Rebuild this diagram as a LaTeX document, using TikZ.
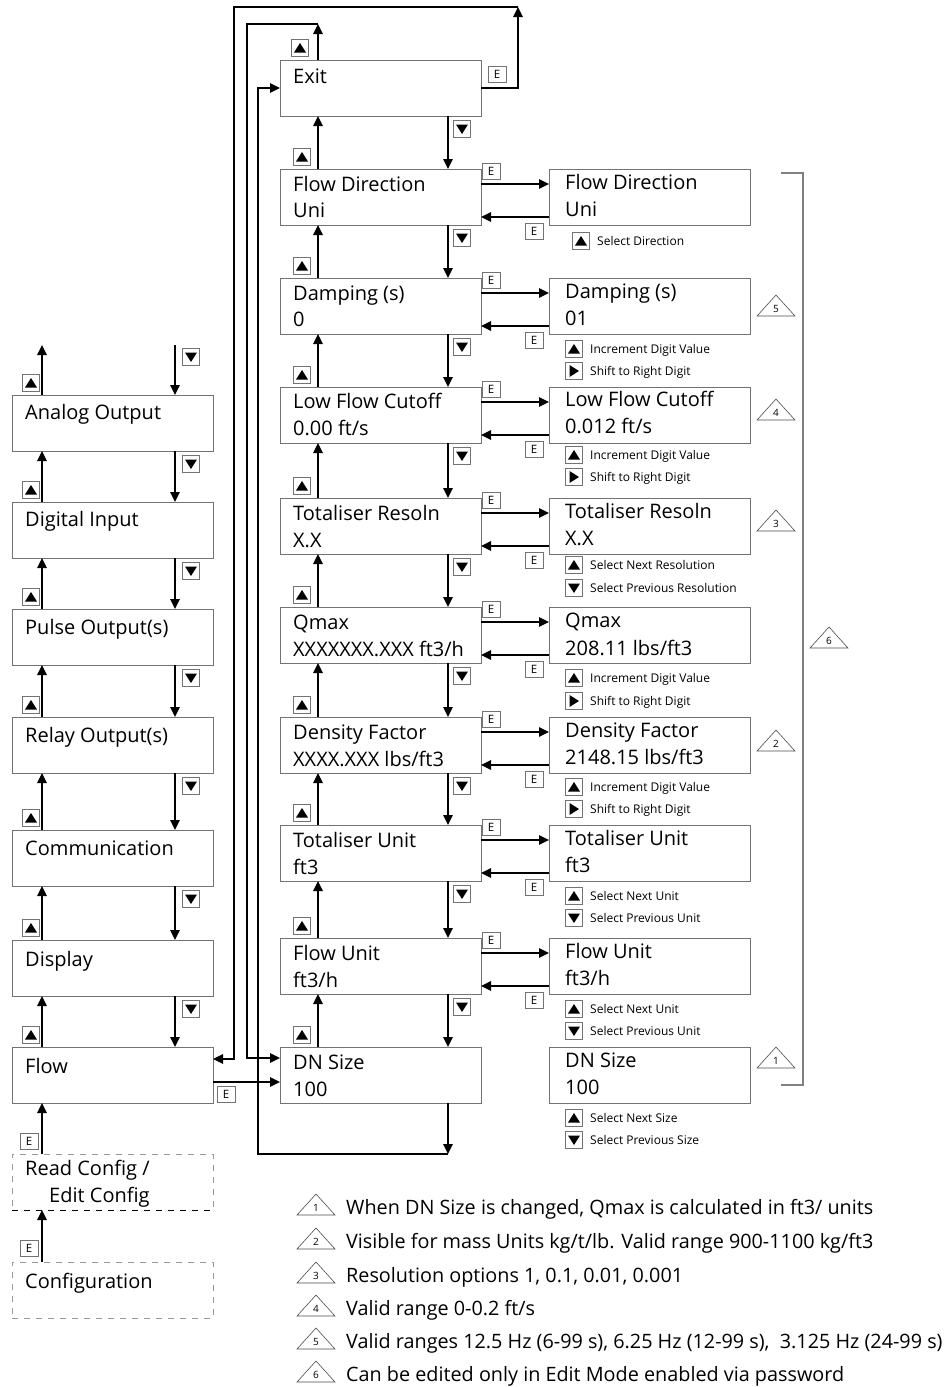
\documentclass[tikz,border=0pt]{standalone}
\usepackage{fontspec}
\setmainfont{Open Sans}
\usetikzlibrary{arrows.meta}
\tikzset{
  box/.style={draw=black!55, line width=0.8pt, minimum width=201pt, minimum height=56pt, inner sep=0pt, outer sep=0pt, anchor=north west},
  dbox/.style={box, draw=black!40, dash pattern=on 6pt off 6pt},
  txt/.style={anchor=base west, inner sep=0pt, font=\fontsize{20}{22}\selectfont},
  htxt/.style={anchor=base west, inner sep=0pt, font=\fontsize{12}{14}\selectfont},
  ltxt/.style={anchor=base west, inner sep=0pt, font=\fontsize{19.8}{22}\selectfont},
  arr/.style={line width=1.3pt, -{Triangle[length=10pt,width=9.5pt]}},
  ibox/.style={draw=black!55, line width=0.7pt, minimum width=17pt, minimum height=17pt, inner sep=0pt, outer sep=0pt, fill=white},
  upi/.style={ibox, path picture={\fill[black,shift={(path picture bounding box.center)}] (-6pt,-4.5pt) -- (6pt,-4.5pt) -- (0pt,5pt) -- cycle;}},
  dni/.style={ibox, path picture={\fill[black,shift={(path picture bounding box.center)}] (-6pt,4.5pt) -- (6pt,4.5pt) -- (0pt,-5pt) -- cycle;}},
  rti/.style={ibox, path picture={\fill[black,shift={(path picture bounding box.center)}] (-4.5pt,-6pt) -- (-4.5pt,6pt) -- (5pt,0pt) -- cycle;}},
  ebox/.style={draw=black!55, line width=0.7pt, minimum width=18pt, minimum height=16pt, inner sep=0pt, fill=white, font=\fontsize{11.5}{11.5}\selectfont},
  tri/.style={draw=black!70, line width=0.6pt, line join=miter},
  trinum/.style={inner sep=0pt, font=\fontsize{10}{10}\selectfont},
  brk/.style={draw=black!50, line width=1.1pt},
}
\newcommand\hlp[5]{\node[#2] (#1) at (#3,#4) {}; \node[htxt] (#1t) at (#3+16,#4+4.5) {#5};}
\newcommand\mtri[4]{\draw[tri] (#1-19,#2+10) -- (#1+19,#2+10) -- (#1,#2-11) -- cycle; \node[trinum] (#4) at (#1,#2+3) {#3};}
\begin{document}
\begin{tikzpicture}[x=1pt,y=-1pt]
\useasboundingbox (0,0) rectangle (944,1387);

% ---------- left column ----------
\node[box] (ao) at (12,395) {};
\node[box] (di) at (12,502) {};
\node[box] (po) at (12,609) {};
\node[box] (ro) at (12,717) {};
\node[box] (co) at (12,830) {};
\node[box] (dp) at (12,940) {};
\node[box] (fl) at (12,1047) {};
\node[dbox] (rc) at (12,1154) {};
\node[dbox] (cf) at (12,1262) {};
\draw[black, line width=0.8pt, dash pattern=on 6pt off 6pt] (rc.south west) -- (rc.south east);

\node[txt] (aoT) at (25,419) {Analog Output};
\node[txt] (diT) at (25,526) {Digital Input};
\node[txt] (poT) at (25,634) {Pulse Output(s)};
\node[txt] (roT) at (25,742) {Relay Output(s)};
\node[txt] (coT) at (25,855) {Communication};
\node[txt] (dpT) at (25,966) {Display};
\node[txt] (flT) at (25,1073) {Flow};
\node[txt] (rcT1) at (25,1175) {Read Config /};
\node[txt] (rcT2) at (49,1202) {Edit Config};
\node[txt] (cfT) at (25,1288) {Configuration};

\coordinate (la) at (42,345);
\coordinate (lb) at (175,345);
\draw[arr] ([xshift=30pt]ao.north west) -- (la);
\draw[arr] (lb) -- ([xshift=163pt]ao.north west);
\node[upi] (lu0) at (31,383) {};
\node[dni] (ld0) at (191,357) {};
\foreach \a/\b [count=\i] in {ao/di,di/po,po/ro,ro/co,co/dp,dp/fl}{
  \draw[arr] ([xshift=30pt]\b.north west) -- ([xshift=30pt]\a.south west);
  \draw[arr] ([xshift=163pt]\a.south west) -- ([xshift=163pt]\b.north west);
  \node[upi] (lu\i) at ([xshift=19pt,yshift=12pt]\b.north west) {};
  \node[dni] (ld\i) at ([xshift=179pt,yshift=-13pt]\a.south west) {};
}
\draw[arr] ([xshift=30pt]rc.north west) -- ([xshift=30pt]fl.south west);
\node[ebox] (e1) at (29,1141) {E};
\draw[arr] ([xshift=30pt]cf.north west) -- ([xshift=30pt]rc.south west);
\node[ebox] (e2) at (29,1248) {E};

% ---------- middle column ----------
\node[box] (ex) at (280,60) {};
\node[box] (fd) at (280,169) {};
\node[box] (dm) at (280,278) {};
\node[box] (lf) at (280,387) {};
\node[box] (tr) at (280,498) {};
\node[box] (qm) at (280,607) {};
\node[box] (df) at (280,717) {};
\node[box] (tu) at (280,825) {};
\node[box] (fu) at (280,938) {};
\node[box] (dn) at (280,1047) {};

\node[txt] (exT) at (293,83) {Exit};
\node[txt] (fdT1) at (293,191) {Flow Direction};
\node[txt] (fdT2) at (293,217) {Uni};
\node[txt] (dmT1) at (293,300) {Damping (s)};
\node[txt] (dmT2) at (293,326) {0};
\node[txt] (lfT1) at (293,408) {Low Flow Cutoff};
\node[txt] (lfT2) at (293,435) {0.00 ft/s};
\node[txt] (trT1) at (293,520) {Totaliser Resoln};
\node[txt] (trT2) at (293,547) {X.X};
\node[txt] (qmT1) at (293,629) {Qmax};
\node[txt] (qmT2) at (293,656) {XXXXXXX.XXX ft3/h};
\node[txt] (dfT1) at (293,739) {Density Factor};
\node[txt] (dfT2) at (293,766) {XXXX.XXX lbs/ft3};
\node[txt] (tuT1) at (293,847) {Totaliser Unit};
\node[txt] (tuT2) at (293,874) {ft3};
\node[txt] (fuT1) at (293,960) {Flow Unit};
\node[txt] (fuT2) at (293,987) {ft3/h};
\node[txt] (dnT1) at (293,1069) {DN Size};
\node[txt] (dnT2) at (293,1096) {100};

\foreach \a/\b [count=\i] in {ex/fd,fd/dm,dm/lf,lf/tr,tr/qm,qm/df,df/tu,tu/fu,fu/dn}{
  \draw[arr] ([xshift=38pt]\b.north west) -- ([xshift=38pt]\a.south west);
  \draw[arr] ([xshift=168pt]\a.south west) -- ([xshift=168pt]\b.north west);
  \node[upi] (mu\i) at ([xshift=22pt,yshift=12pt]\b.north west) {};
  \node[dni] (md\i) at ([xshift=182pt,yshift=-13pt]\a.south west) {};
}

% loops
\coordinate (c1) at (518,7);
\coordinate (c2) at (234,7);
\coordinate (c3) at (318,24);
\coordinate (c4) at (247,24);
\coordinate (c5) at (448,1154);
\coordinate (c6) at (258,1154);
\draw[arr] (ex.east) -| (c1);
\draw[arr] (c1) -- (c2) |- ([yshift=-12pt]fl.north east);
\node[ebox] (e3) at (497,74) {E};
\draw[arr] ([xshift=38pt]ex.north west) -- (c3);
\node[upi] (mu0) at (300,48) {};
\draw[arr] (c3) -- (c4) |- ([yshift=-11pt]dn.north west);
\draw[arr] ([xshift=168pt]dn.south west) -- (c5);
\draw[arr] (c5) -- (c6) |- (ex.west);
\draw[arr] ([yshift=-35pt]fl.north east) -- ([yshift=-35pt]dn.north west);
\node[ebox] (e4) at (226,1094) {E};

% ---------- right column ----------
\node[box] (rfd) at (549,169) {};
\node[box] (rdm) at (549,278) {};
\node[box] (rlf) at (549,387) {};
\node[box] (rtr) at (549,498) {};
\node[box] (rqm) at (549,607) {};
\node[box] (rdf) at (549,717) {};
\node[box] (rtu) at (549,825) {};
\node[box] (rfu) at (549,938) {};
\node[box] (rdn) at (549,1047) {};

\node[txt] (rfdT1) at (565,189) {Flow Direction};
\node[txt] (rfdT2) at (565,216) {Uni};
\node[txt] (rdmT1) at (565,298) {Damping (s)};
\node[txt] (rdmT2) at (565,325) {01};
\node[txt] (rlfT1) at (565,406) {Low Flow Cutoff};
\node[txt] (rlfT2) at (565,433) {0.012 ft/s};
\node[txt] (rtrT1) at (565,518) {Totaliser Resoln};
\node[txt] (rtrT2) at (565,545) {X.X};
\node[txt] (rqmT1) at (565,627) {Qmax};
\node[txt] (rqmT2) at (565,655) {208.11 lbs/ft3};
\node[txt] (rdfT1) at (565,737) {Density Factor};
\node[txt] (rdfT2) at (565,764) {2148.15 lbs/ft3};
\node[txt] (rtuT1) at (565,845) {Totaliser Unit};
\node[txt] (rtuT2) at (565,872) {ft3};
\node[txt] (rfuT1) at (565,958) {Flow Unit};
\node[txt] (rfuT2) at (565,985) {ft3/h};
\node[txt] (rdnT1) at (565,1067) {DN Size};
\node[txt] (rdnT2) at (565,1094) {100};

\foreach \a/\b [count=\i] in {fd/rfd,dm/rdm,lf/rlf,tr/rtr,qm/rqm,df/rdf,tu/rtu,fu/rfu}{
  \draw[arr] ([yshift=-15pt]\a.north east) -- ([yshift=-15pt]\b.north west);
  \draw[arr] ([yshift=-48pt]\b.north west) -- ([yshift=-48pt]\a.north east);
  \node[ebox] (eu\i) at ([xshift=10pt,yshift=-2pt]\a.north east) {E};
  \node[ebox] (ed\i) at ([xshift=-15pt,yshift=-6pt]\b.south west) {E};
}

% helpers
\hlp{h1}{upi}{581}{241}{Select Direction}
\hlp{h2}{upi}{574}{349}{Increment Digit Value}
\hlp{h3}{rti}{574}{371}{Shift to Right Digit}
\hlp{h4}{upi}{574}{455}{Increment Digit Value}
\hlp{h5}{rti}{574}{477}{Shift to Right Digit}
\hlp{h6}{upi}{574}{565}{Select Next Resolution}
\hlp{h7}{dni}{574}{588}{Select Previous Resolution}
\hlp{h8}{upi}{574}{678}{Increment Digit Value}
\hlp{h9}{rti}{574}{701}{Shift to Right Digit}
\hlp{h10}{upi}{574}{787}{Increment Digit Value}
\hlp{h11}{rti}{574}{809}{Shift to Right Digit}
\hlp{h12}{upi}{574}{896}{Select Next Unit}
\hlp{h13}{dni}{574}{918}{Select Previous Unit}
\hlp{h14}{upi}{574}{1009}{Select Next Unit}
\hlp{h15}{dni}{574}{1031}{Select Previous Unit}
\hlp{h16}{upi}{574}{1118}{Select Next Size}
\hlp{h17}{dni}{574}{1140}{Select Previous Size}

% note markers
\mtri{776}{306}{5}{n5}
\mtri{776}{410}{4}{n4}
\mtri{776}{521}{3}{n3}
\mtri{829}{638}{6}{n6}
\mtri{776}{741}{2}{n2}
\mtri{776}{1058}{1}{n1}
\coordinate (b1) at (781,173);
\coordinate (b2) at (803,173);
\coordinate (b3) at (803,1085);
\coordinate (b4) at (781,1085);
\draw[brk] (b1) -- (b2) -- (b3) -- (b4);

% legend
\mtri{316}{1205}{1}{l1}
\node[ltxt] (l1t) at (346,1214) {When DN Size is changed, Qmax is calculated in ft3/ units};
\mtri{316}{1239}{2}{l2}
\node[ltxt] (l2t) at (346,1248) {Visible for mass Units kg/t/lb. Valid range 900-1100 kg/ft3};
\mtri{316}{1273}{3}{l3}
\node[ltxt] (l3t) at (346,1282) {Resolution options 1, 0.1, 0.01, 0.001};
\mtri{316}{1306}{4}{l4}
\node[ltxt] (l4t) at (346,1315) {Valid range 0-0.2 ft/s};
\mtri{316}{1339}{5}{l5}
\node[ltxt] (l5t) at (346,1348) {Valid ranges 12.5 Hz (6-99 s), 6.25 Hz (12-99 s), \ 3.125 Hz (24-99 s)};
\mtri{316}{1372}{6}{l6}
\node[ltxt] (l6t) at (346,1381) {Can be edited only in Edit Mode enabled via password};
\end{tikzpicture}
\end{document}
